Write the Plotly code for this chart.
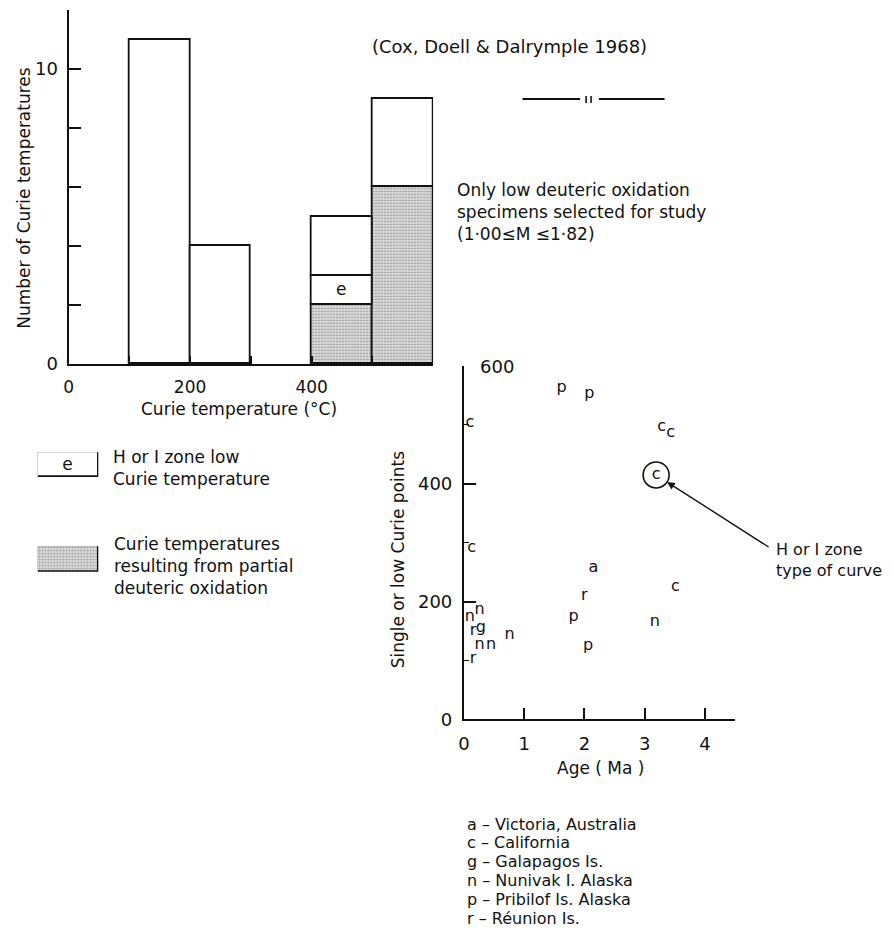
import numpy as np
import plotly.graph_objects as go

W, H = 893, 942
FONT = "DejaVu Sans"
INK = "#111111"

# ---- Curie temperature histogram (Cox, Doell & Dalrymple 1968) ----
bin_left = [100, 200, 400, 500]          # deg C
bin_width = [100, 100, 100, 100]
bin_total = [11, 4, 5, 9]                # all Curie temperatures in bin
bin_oxidised = [0, 0, 2, 6]              # from partial deuteric oxidation
bin_hzone = [0, 0, 1, 0]                 # H or I zone low Curie temperature

hist_xticks = [0, 100, 200, 300, 400, 500, 600]
hist_xlabels = ["0", "", "200", "", "400", "", ""]
hist_yticks = [0, 2, 4, 6, 8, 10, 12]
hist_ylabels = ["0", "", "", "", "", "10", ""]

# ---- Single or low Curie points against age ----
codes = ["c", "c", "p", "p", "c", "c", "a", "c", "r", "p", "n", "p", "n",
         "n", "n", "r", "g", "n", "n", "r"]
age_ma = [0.10, 0.13, 1.62, 2.08, 3.28, 3.43, 2.15, 3.51, 2.00, 1.82, 3.17,
          2.06, 0.76, 0.10, 0.26, 0.15, 0.28, 0.26, 0.45, 0.15]
curie_pt = [504, 291, 563, 553, 496, 487, 257, 225, 210, 173, 165,
            124, 143, 173, 185, 150, 155, 126, 126, 103]

hzone_code = ["c"]
hzone_age = [3.19]
hzone_pt = [415]

age_ticks = [0, 1, 2, 3, 4]
pt_ticks = [0, 200, 400, 600]
pt_labels = ["0", "200", "400", ""]

localities = [
    ("a", "Victoria, Australia"),
    ("c", "California"),
    ("g", "Galapagos Is."),
    ("n", "Nunivak I. Alaska"),
    ("p", "Pribilof Is. Alaska"),
    ("r", "Réunion Is."),
]


def px(x):
    return x / W


def py(y):
    return 1 - y / H


STIPPLE = dict(shape=".", size=3, solidity=0.38, fgcolor="#4a4a4a",
               bgcolor="#e4e4e4", fillmode="overlay")
BAR_TEXT = dict(textposition="inside", insidetextanchor="middle",
                textangle=0, constraintext="none",
                textfont=dict(family=FONT, size=17, color=INK))

fig = go.Figure()

left = np.array(bin_left, float)
width = np.array(bin_width, float)
total = np.array(bin_total, float)
oxid = np.array(bin_oxidised, float)
hz = np.array(bin_hzone, float)
centre = left + width / 2
rest = total - oxid - hz

m = oxid > 0
fig.add_trace(go.Bar(
    x=centre[m], y=oxid[m], base=0, width=width[m],
    marker=dict(color="#e4e4e4", pattern=STIPPLE,
                line=dict(color=INK, width=1.8)),
    cliponaxis=False, xaxis="x", yaxis="y", showlegend=False))
m = hz > 0
fig.add_trace(go.Bar(
    x=centre[m], y=hz[m], base=oxid[m], width=width[m],
    text=["e"] * int(m.sum()), **BAR_TEXT,
    marker=dict(color="white", line=dict(color=INK, width=1.8)),
    cliponaxis=False, xaxis="x", yaxis="y", showlegend=False))
m = rest > 0
fig.add_trace(go.Bar(
    x=centre[m], y=rest[m], base=(oxid + hz)[m], width=width[m],
    marker=dict(color="white", line=dict(color=INK, width=1.8)),
    cliponaxis=False, xaxis="x", yaxis="y", showlegend=False))

# locality letters
fig.add_trace(go.Scatter(
    x=age_ma, y=curie_pt, text=codes, mode="text",
    textposition="middle center",
    textfont=dict(family=FONT, size=16, color=INK),
    cliponaxis=False, xaxis="x2", yaxis="y2", showlegend=False))
fig.add_trace(go.Scatter(
    x=hzone_age, y=hzone_pt, text=hzone_code, mode="markers+text",
    textposition="middle center",
    textfont=dict(family=FONT, size=16, color=INK),
    marker=dict(symbol="circle-open", size=26,
                line=dict(color=INK, width=1.6), color=INK),
    cliponaxis=False, xaxis="x2", yaxis="y2", showlegend=False))

# legend keys
fig.add_trace(go.Bar(
    x=[0.5], y=[1], width=[1], text=["e"], **BAR_TEXT,
    marker=dict(color="white", line=dict(color=INK, width=1.8)),
    cliponaxis=False, xaxis="x3", yaxis="y3", showlegend=False))
fig.add_trace(go.Bar(
    x=[0.5], y=[1], width=[1],
    marker=dict(color="#e4e4e4", pattern=STIPPLE,
                line=dict(color=INK, width=1.8)),
    cliponaxis=False, xaxis="x4", yaxis="y4", showlegend=False))

axis_common = dict(showgrid=False, zeroline=False, showline=True,
                   linecolor=INK, linewidth=2, ticks="inside",
                   tickcolor=INK, tickwidth=1.6, fixedrange=True,
                   tickfont=dict(family=FONT, size=18, color=INK))

hidden = dict(visible=False, range=[0, 1], fixedrange=True)

fig.update_layout(
    width=W, height=H, margin=dict(l=0, r=0, t=0, b=0),
    paper_bgcolor="white", plot_bgcolor="rgba(0,0,0,0)",
    barmode="overlay", bargap=0,
    font=dict(family=FONT, size=17, color=INK),
    xaxis=dict(axis_common, domain=[px(63), px(430)], range=[0, 600],
               tickvals=hist_xticks, ticktext=hist_xlabels, ticklen=8,
               ticklabelstandoff=7, anchor="y",
               tickfont=dict(family=FONT, size=17, color=INK)),
    yaxis=dict(axis_common, domain=[py(368), py(10)], range=[0, 12],
               tickvals=hist_yticks, ticktext=hist_ylabels, ticklen=12,
               ticklabelstandoff=5, anchor="x"),
    xaxis2=dict(axis_common, domain=[px(461), px(734)], range=[0, 4.5],
                tickvals=age_ticks, ticklen=11, ticklabelstandoff=7,
                anchor="y2"),
    yaxis2=dict(axis_common, domain=[py(727), py(370)], range=[0, 600],
                tickvals=pt_ticks, ticktext=pt_labels, ticklen=12,
                ticklabelstandoff=6, anchor="x2",
                minor=dict(tickvals=[100, 300, 500], ticks="inside",
                           ticklen=5, tickcolor=INK, tickwidth=1.2)),
    xaxis3=dict(hidden, domain=[px(32), px(93)], anchor="y3"),
    yaxis3=dict(hidden, domain=[py(482), py(457)], anchor="x3"),
    xaxis4=dict(hidden, domain=[px(32), px(93)], anchor="y4"),
    yaxis4=dict(hidden, domain=[py(578), py(552)], anchor="x4"),
)

ann = []


def label(x, y, text, size=17, xanchor="left", angle=0):
    ann.append(dict(x=px(x), y=py(y), xref="paper", yref="paper", text=text,
                    showarrow=False, xanchor=xanchor, yanchor="middle",
                    align="left", textangle=angle,
                    font=dict(family=FONT, size=size, color=INK)))


label(507, 47, "(Cox, Doell &amp; Dalrymple 1968)", 18, "center")
label(18, 200, "Number of Curie temperatures", 17, "center", -90)
label(235, 413, "Curie temperature (°C)", 17, "center")
label(452, 214, "Only low deuteric oxidation<br>specimens selected for study"
      "<br>(1·00≤M ≤1·82)", 17)
label(106, 473, "H or I zone low<br>Curie temperature", 17)
label(107, 572, "Curie temperatures<br>resulting from partial"
      "<br>deuteric oxidation", 17)
label(395, 566, "Single or low Curie points", 17, "center", -90)
label(599, 776, "Age ( Ma )", 17, "center")
label(773, 566, "H or I zone<br>type of curve", 16)
for i, (code, place) in enumerate(localities):
    label(462, 833 + 19 * i, f"{code} – {place}", 16)

# "600" printed to the right of the top tick
ann.append(dict(x=0, y=pt_ticks[-1], xref="x2", yref="y2", text="600",
                showarrow=False, xanchor="left", yanchor="middle", xshift=14,
                font=dict(family=FONT, size=18, color=INK)))

# arrow to the circled H/I-zone curve
ann.append(dict(x=hzone_age[0], y=hzone_pt[0], xref="x2", yref="y2", text="",
                showarrow=True, ax=114, ay=73, axref="pixel", ayref="pixel",
                standoff=13, arrowhead=2, arrowsize=1.1, arrowwidth=1.4,
                arrowcolor=INK))

fig.update_layout(annotations=ann)

# axis-break mark beside the source line
shapes = [
    dict(type="line", xref="paper", yref="paper", x0=px(520), x1=px(578),
         y0=py(100), y1=py(100), line=dict(color=INK, width=2)),
    dict(type="line", xref="paper", yref="paper", x0=px(597), x1=px(663),
         y0=py(100), y1=py(100), line=dict(color=INK, width=2)),
    dict(type="line", xref="paper", yref="paper", x0=px(584), x1=px(584),
         y0=py(97), y1=py(104), line=dict(color=INK, width=1.6)),
    dict(type="line", xref="paper", yref="paper", x0=px(589), x1=px(589),
         y0=py(97), y1=py(104), line=dict(color=INK, width=1.6)),
]
fig.update_layout(shapes=shapes)

fig.write_html("out.html")
